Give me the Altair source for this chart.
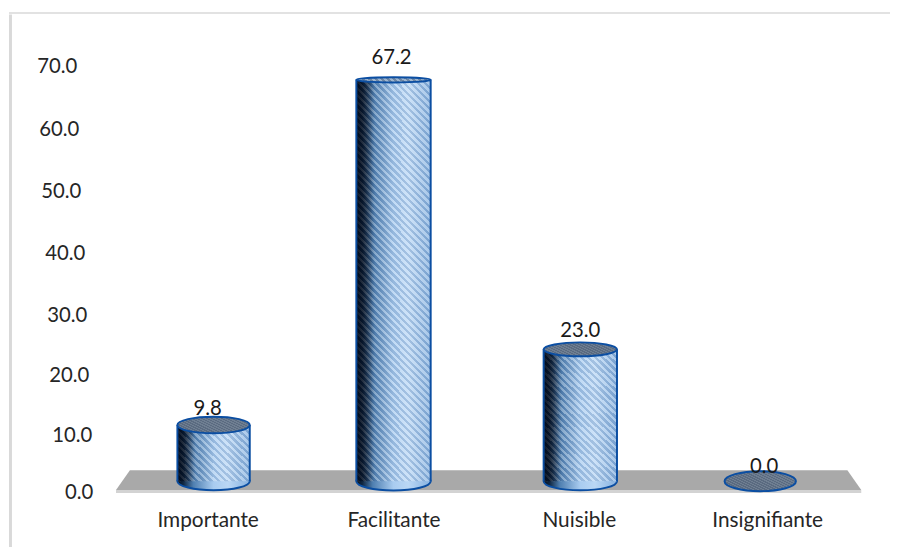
import altair as alt
import pandas as pd

categories = ["Importante", "Facilitante", "Nuisible", "Insignifiante"]
positions = [0, 1, 2, 3]
values = [9.8, 67.2, 23.0, 0.0]
labels = ["9.8", "67.2", "23.0", "0.0"]
y_ticks = [0, 10, 20, 30, 40, 50, 60, 70]
y_tick_labels = ["0.0", "10.0", "20.0", "30.0", "40.0", "50.0", "60.0", "70.0"]

df = pd.DataFrame({"cat": categories, "idx": positions, "value": values, "label": labels})
ticks_df = pd.DataFrame({"v": y_ticks, "t": y_tick_labels})

FONT = "Lato"
LEFT, TOP = 90, 8            # padding around the view
W, H = 782, 475
OUT = "#0b4ea2"
FS = 20.5

# The source is a 3-D Excel chart seen in perspective: positions drift slightly.
xscale = alt.Scale(domain=positions, range=[112.5, 299, 487.5, 674])
tick_scale = alt.Scale(domain=y_ticks, range=[479, 421, 360.5, 300.5, 237.5, 175.5, 113, 49.5])
cyl_scale = alt.Scale(domain=[0, 23, 67.2], range=[467, 334, 62])

# per-tick right edge of the label, relative to the view
tick_dx = {0: -4, 10: -5, 20: -8, 30: -10, 40: -12, 50: -16, 60: -18, 70: -20}
# per-category styling: width, cap radius ratio, label nudges
style = {
    "Importante": dict(bw=73, ry=0.23, lift=16.5, dx=-6, axdx=-5.5),
    "Facilitante": dict(bw=75, ry=0.07, lift=22, dx=-2, axdx=0.5),
    "Nuisible": dict(bw=74, ry=0.19, lift=18, dx=0, axdx=-1),
    "Insignifiante": dict(bw=72, ry=0.28, lift=14, dx=4, axdx=7.5),
}


def X():
    return alt.X("idx:Q", scale=xscale, axis=None, title=None)


Y = alt.Y("value:Q", scale=cyl_scale, axis=None, stack=None)
Y0 = alt.datum(0)


def stripes(w, h, period, a, b):
    """Diagonal hatching as a hard-stopped gradient, period in px."""
    n = int((w + h) / period)
    k = (w + h) / (w * w + h * h)
    stops = []
    for i in range(n):
        stops += [
            alt.GradientStop(offset=i / n, color=a),
            alt.GradientStop(offset=(i + 0.5) / n, color=a),
            alt.GradientStop(offset=(i + 0.5) / n, color=b),
            alt.GradientStop(offset=(i + 1) / n, color=b),
        ]
    return alt.LinearGradient(gradient="linear", stops=stops,
                              x1=0, y1=1, x2=k * w, y2=1 - k * h)


body_grad = alt.LinearGradient(
    gradient="linear", x1=0, x2=1, y1=0, y2=0,
    stops=[
        alt.GradientStop(offset=0, color="#04101f"),
        alt.GradientStop(offset=0.08, color="#10263f"),
        alt.GradientStop(offset=0.22, color="#4f7fb0"),
        alt.GradientStop(offset=0.5, color="#a9ccf0"),
        alt.GradientStop(offset=0.7, color="#bad7f5"),
        alt.GradientStop(offset=1, color="#86b1df"),
    ],
)
shade_grad = alt.LinearGradient(
    gradient="linear", x1=0, x2=1, y1=0, y2=0,
    stops=[
        alt.GradientStop(offset=0, color="rgba(3,12,28,0.85)"),
        alt.GradientStop(offset=0.1, color="rgba(3,12,28,0.55)"),
        alt.GradientStop(offset=0.25, color="rgba(3,12,28,0)"),
        alt.GradientStop(offset=1, color="rgba(3,12,28,0)"),
    ],
)


def ellipse(ry):
    return f"M-1 0A1 {ry} 0 1 0 1 0A1 {ry} 0 1 0 -1 0Z"


def cap_chart(sub, bw, ry, fill):
    return alt.Chart(sub).mark_point(
        shape=ellipse(ry), size=bw * bw, filled=True, fill=fill, opacity=1,
        stroke=OUT, strokeWidth=2,
    ).encode(x=X(), y=Y)


layers = []

# frame
frame = "#d9d9d9"
layers.append(alt.Chart(df.head(1)).mark_rule(color=frame, strokeWidth=3).encode(
    x=alt.value(-87.5), y=alt.value(-4), y2=alt.value(540)))
layers.append(alt.Chart(df.head(1)).mark_rule(color=frame, strokeWidth=1.5).encode(
    x=alt.value(-89), x2=alt.value(800), y=alt.value(-5.5)))

# floor
layers.append(alt.Chart(df.head(1)).mark_point(
    shape="M-376 10L-362 -10L362 -10L376 10Z", size=4, filled=True,
    fill="#a9a9a9", opacity=1, stroke=None,
).encode(x=alt.value(395), y=alt.value(466)))
layers.append(alt.Chart(df.head(1)).mark_rule(color="#d3d3d3", strokeWidth=3).encode(
    x=alt.value(19), x2=alt.value(771), y=alt.value(477.5)))

# value-axis labels
for v, dx in tick_dx.items():
    layers.append(alt.Chart(ticks_df[ticks_df["v"] == v]).mark_text(
        font=FONT, fontSize=FS, color="#262626", align="right", baseline="middle", dx=dx
    ).encode(x=alt.value(0), y=alt.Y("v:Q", scale=tick_scale, axis=None, title=None), text="t:N"))

for cat, val in zip(categories, values):
    sub = df[df["cat"] == cat]
    s = style[cat]
    bw = s["bw"]
    h = max(val * 6, 1)
    if val > 0:
        layers.append(cap_chart(sub, bw, 0.25, body_grad).encode(
            y=alt.Y("base:Q", scale=cyl_scale, axis=None)).transform_calculate(base="0"))
        layers.append(alt.Chart(sub).mark_bar(size=bw, color=body_grad).encode(x=X(), y=Y, y2=Y0))
        layers.append(alt.Chart(sub).mark_bar(
            size=bw, color=stripes(bw, h, 7, "rgba(255,255,255,0.28)", "rgba(8,40,90,0.12)")
        ).encode(x=X(), y=Y, y2=Y0))
        layers.append(alt.Chart(sub).mark_bar(size=bw, color=shade_grad).encode(x=X(), y=Y, y2=Y0))
        for dx in (-bw / 2, bw / 2):
            layers.append(alt.Chart(sub).mark_rule(color=OUT, strokeWidth=2, xOffset=dx).encode(x=X(), y=Y, y2=Y0))
    if cat == "Facilitante":
        fill = stripes(bw, 6, 6, "#9fb6cf", "#6f87a3")
    else:
        fill = stripes(bw, bw * s["ry"] * 2, 5, "#6f7f92", "#5a6a80")
    layers.append(cap_chart(sub, bw, s["ry"], fill))
    layers.append(alt.Chart(sub).mark_text(
        font=FONT, fontSize=FS, color="#1a1a1a", baseline="middle", dy=-s["lift"], dx=s["dx"]
    ).encode(x=X(), y=Y, text="label:N"))
    # category label
    layers.append(alt.Chart(sub).mark_text(
        font=FONT, fontSize=21, color="#262626", baseline="middle", dx=s["axdx"]
    ).encode(x=X(), y=alt.value(507), text="cat:N"))

chart = alt.layer(*layers).resolve_scale(y="independent").properties(
    width=W, height=H,
    padding={"left": LEFT, "top": TOP, "right": 18, "bottom": 56},
    autosize=alt.AutoSizeParams(type="none"),
    background="white",
).configure_view(stroke=None)

chart.save("out.html", embed_options={"renderer": "svg", "actions": False})
